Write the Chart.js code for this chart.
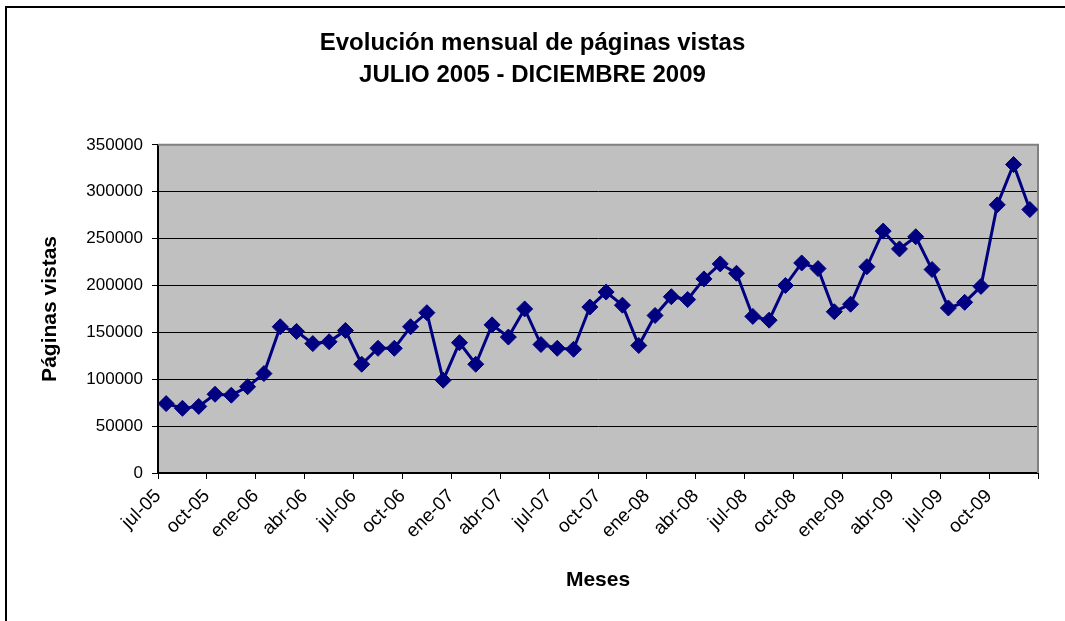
<!DOCTYPE html>
<html>
<head>
<meta charset="utf-8">
<script src="https://cdn.jsdelivr.net/npm/chart.js@4.4.1/dist/chart.umd.min.js"></script>
<style>
html, body { margin: 0; padding: 0; overflow: hidden; background: #fff; }
canvas { display: block; }
</style>
</head>
<body>
<canvas id="c" width="1065" height="621"></canvas>
<script>
const months = [
  'jul-05','ago-05','sep-05','oct-05','nov-05','dic-05',
  'ene-06','feb-06','mar-06','abr-06','may-06','jun-06','jul-06','ago-06','sep-06','oct-06','nov-06','dic-06',
  'ene-07','feb-07','mar-07','abr-07','may-07','jun-07','jul-07','ago-07','sep-07','oct-07','nov-07','dic-07',
  'ene-08','feb-08','mar-08','abr-08','may-08','jun-08','jul-08','ago-08','sep-08','oct-08','nov-08','dic-08',
  'ene-09','feb-09','mar-09','abr-09','may-09','jun-09','jul-09','ago-09','sep-09','oct-09','nov-09','dic-09'
];
const pageViews = [
  74000, 69000, 71000, 84000, 83000, 92000,
  106000, 156000, 151000, 138000, 140000, 152000, 116000, 133000, 133000, 156000, 171000, 99000,
  139000, 116000, 158000, 145000, 175000, 137000, 133000, 132000, 177000, 193000, 179000, 136000,
  168000, 188000, 185000, 207000, 223000, 213000, 167000, 163000, 200000, 224000, 218000, 172000,
  180000, 220000, 258000, 239000, 252000, 217000, 176000, 182000, 199000, 286000, 329000, 281000
];
const xTickLabels = [
  'jul-05','oct-05','ene-06','abr-06','jul-06','oct-06','ene-07','abr-07','jul-07',
  'oct-07','ene-08','abr-08','jul-08','oct-08','ene-09','abr-09','jul-09','oct-09'
];
const titleLines = ['Evolución mensual de páginas vistas', 'JULIO 2005 - DICIEMBRE 2009'];
const yTitle = 'Páginas vistas';
const xTitle = 'Meses';

const FONT = "'Liberation Sans', Arial, sans-serif";

const points = pageViews.map((v, i) => ({ x: i + 0.5, y: v, label: months[i] }));

const framePlugin = {
  id: 'frame',
  beforeDraw(chart) {
    const ctx = chart.ctx;
    const a = chart.chartArea;
    ctx.save();
    ctx.fillStyle = '#ffffff';
    ctx.fillRect(0, 0, chart.width, chart.height);
    ctx.strokeStyle = '#000000';
    ctx.lineWidth = 2;
    ctx.strokeRect(6, 7, chart.width + 20, chart.height + 20);
    ctx.fillStyle = '#c0c0c0';
    ctx.fillRect(a.left, a.top, a.right - a.left, a.bottom - a.top);
    ctx.restore();
  },
  beforeDatasetsDraw(chart) {
    const ctx = chart.ctx;
    const a = chart.chartArea;
    ctx.save();
    ctx.strokeStyle = '#808080';
    ctx.lineWidth = 2;
    ctx.beginPath();
    ctx.moveTo(a.left, a.top);
    ctx.lineTo(a.right, a.top);
    ctx.lineTo(a.right, a.bottom);
    ctx.stroke();
    ctx.restore();
  }
};

new Chart(document.getElementById('c'), {
  type: 'line',
  data: {
    datasets: [{
      data: points,
      borderColor: '#000080',
      backgroundColor: '#000080',
      borderWidth: 3,
      pointStyle: 'rectRot',
      pointRadius: 8,
      pointBorderWidth: 1,
      pointBorderColor: '#000080',
      pointBackgroundColor: '#000080',
      tension: 0,
      fill: false
    }]
  },
  options: {
    responsive: false,
    animation: false,
    layout: { padding: { left: 27, right: 27, top: 0, bottom: 0 } },
    plugins: {
      legend: { display: false },
      tooltip: { enabled: false },
      title: {
        display: true,
        text: titleLines,
        color: '#000',
        font: { family: FONT, size: 24, weight: 'bold', lineHeight: 1.33 },
        padding: { top: 27, bottom: 54 }
      }
    },
    scales: {
      x: {
        type: 'linear',
        min: 0,
        max: 54,
        afterBuildTicks(scale) {
          scale.ticks = [];
          for (let i = 0; i <= months.length; i += 3) scale.ticks.push({ value: i });
        },
        afterFit(scale) { scale.height = 148; },
        ticks: {
          autoSkip: false,
          maxRotation: 45,
          minRotation: 45,
          color: '#000',
          padding: 6,
          font: { family: FONT, size: 19 },
          callback(v) {
            const idx = Math.round(v / 3);
            return idx < xTickLabels.length ? xTickLabels[idx] : '';
          }
        },
        grid: { drawOnChartArea: false, drawTicks: true, tickLength: 6, color: '#000', lineWidth: 1 },
        border: { display: true, color: '#000', width: 2 },
        title: {
          display: true, text: xTitle, color: '#000',
          font: { family: FONT, size: 21, weight: 'bold' },
          padding: { top: 0, bottom: 28 }
        }
      },
      y: {
        min: 0,
        max: 350000,
        afterFit(scale) { scale.width = 131; },
        ticks: {
          stepSize: 50000,
          color: '#000',
          padding: 9,
          font: { family: FONT, size: 17 },
          callback(v) { return String(v); }
        },
        grid: { drawOnChartArea: true, drawTicks: true, tickLength: 6, color: '#000', lineWidth: 1 },
        border: { display: true, color: '#000', width: 2 },
        title: {
          display: true, text: yTitle, color: '#000',
          font: { family: FONT, size: 21, weight: 'bold' },
          padding: { top: 11, bottom: 0 }
        }
      }
    }
  },
  plugins: [framePlugin]
});
</script>
</body>
</html>
